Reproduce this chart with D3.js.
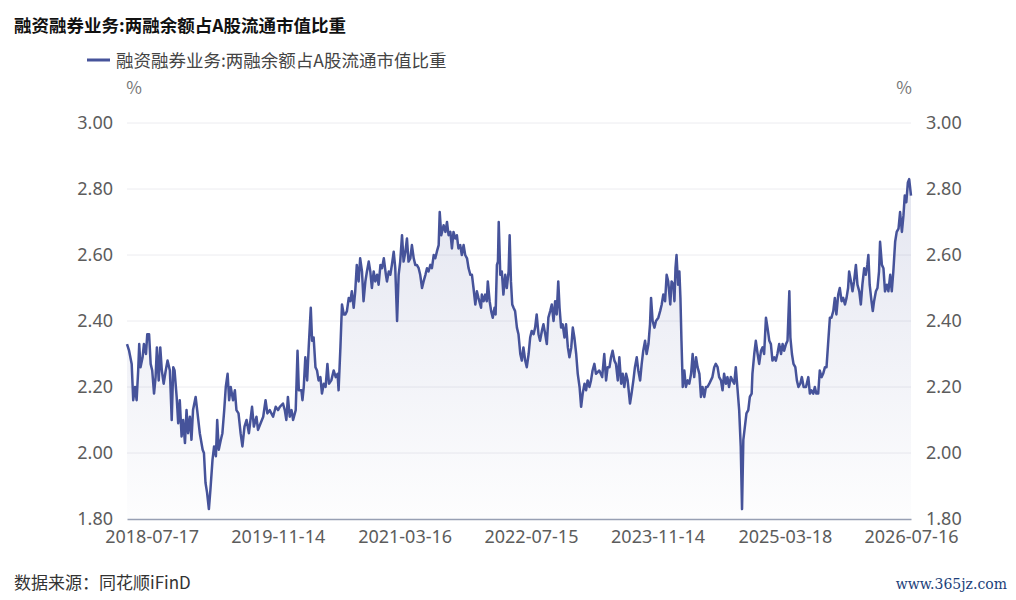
<!DOCTYPE html>
<html>
<head>
<meta charset="utf-8">
<script src="https://cdn.jsdelivr.net/npm/d3@7"></script>
<style>
  body { margin: 0; background: #fff; }
  svg { display: block; font-family: "Noto Sans CJK SC", "Noto Sans", sans-serif; }
</style>
</head>
<body>
<script>
// 融资融券业务:两融余额占A股流通市值比重 (%), one block per year
const days2018 = [
  "04-13","04-21","05-01","05-07","05-14","05-20","05-26","05-30","06-04","06-12",
  "06-17","06-25","06-30","07-07","07-13","07-19","07-26","08-01","08-06","08-13",
  "08-19","08-25","09-01","09-09","09-16","09-25","10-02","10-08","10-13","10-21",
  "10-27","11-02","11-09","11-15","11-22","11-28","12-04","12-11","12-17","12-23"];
const ratio2018 = [
  2.33,2.31,2.27,2.16,2.20,2.16,2.25,2.33,2.26,2.29,
  2.33,2.30,2.36,2.36,2.27,2.25,2.18,2.23,2.32,2.22,
  2.32,2.25,2.21,2.25,2.28,2.25,2.10,2.26,2.25,2.17,
  2.09,2.16,2.05,2.10,2.03,2.13,2.06,2.11,2.04,2.13];

const days2019 = [
  "01-02","01-08","01-18","01-29","02-03","02-09","02-15","02-22","02-28","03-08",
  "03-14","03-21","03-26","04-01","04-09","04-15","04-22","04-28","05-05","05-11",
  "05-17","05-26","06-02","06-08","06-16","06-24","07-01","07-09","07-17","07-26",
  "08-01","08-07","08-14","08-24","08-30","09-09","09-19","09-28","10-05","10-14",
  "10-27","11-06","11-15","11-22","12-04","12-11","12-17","12-23","12-30"];
const ratio2019 = [
  2.17,2.13,2.06,2.01,2.00,1.91,1.88,1.83,1.89,1.98,
  2.02,1.99,2.10,2.01,2.04,2.06,2.13,2.20,2.24,2.16,
  2.20,2.16,2.19,2.13,2.12,2.06,2.02,2.08,2.10,2.06,
  2.10,2.14,2.08,2.11,2.07,2.09,2.11,2.16,2.12,2.13,
  2.11,2.14,2.13,2.14,2.15,2.13,2.10,2.17,2.11];

const days2020 = [
  "01-06","01-12","01-22","01-29","02-03","02-13","02-17","02-22","02-28","03-06",
  "03-12","03-20","03-25","03-31","04-07","04-13","04-19","04-26","05-02","05-09",
  "05-16","05-23","05-29","06-07","06-16","06-24","07-01","07-05","07-12","07-18",
  "07-25","07-31","08-06","08-13","08-19","08-25","09-01","09-07","09-13","09-20",
  "09-26","10-03","10-09","10-16","10-22","10-29","11-04","11-10","11-17","11-23",
  "11-30","12-06","12-13","12-19","12-26"];
const ratio2020 = [
  2.13,2.10,2.13,2.31,2.19,2.19,2.16,2.20,2.29,2.22,
  2.32,2.44,2.34,2.35,2.26,2.25,2.22,2.23,2.18,2.21,
  2.20,2.27,2.21,2.22,2.25,2.23,2.24,2.19,2.32,2.45,
  2.42,2.42,2.43,2.47,2.46,2.49,2.44,2.49,2.57,2.52,
  2.59,2.55,2.46,2.52,2.55,2.58,2.55,2.50,2.55,2.52,
  2.54,2.51,2.57,2.56,2.59];

const days2021 = [
  "01-03","01-07","01-14","01-20","01-26","02-02","02-08","02-15","02-21","02-27",
  "03-06","03-12","03-19","03-25","03-31","04-07","04-13","04-20","04-26","05-02",
  "05-09","05-15","05-22","05-28","06-04","06-10","06-16","06-23","06-29","07-06",
  "07-12","07-18","07-25","07-29","08-04","08-13","08-20","08-26","09-01","09-08",
  "09-14","09-20","09-27","10-03","10-09","10-16","10-22","10-29","11-04","11-11",
  "11-17","11-24","11-30","12-06","12-13","12-19","12-25"];
const ratio2021 = [
  2.54,2.52,2.55,2.54,2.57,2.61,2.56,2.40,2.54,2.58,
  2.66,2.58,2.61,2.65,2.58,2.59,2.63,2.59,2.57,2.57,
  2.56,2.54,2.50,2.52,2.54,2.56,2.55,2.57,2.56,2.60,
  2.59,2.61,2.63,2.73,2.66,2.69,2.67,2.70,2.66,2.67,
  2.62,2.67,2.65,2.66,2.62,2.63,2.60,2.63,2.60,2.59,
  2.56,2.54,2.54,2.50,2.45,2.49,2.47];

const days2022 = [
  "01-04","01-07","01-14","01-20","01-26","01-30","02-06","02-12","02-18","02-25",
  "03-01","03-06","03-10","03-13","03-19","03-25","03-31","04-07","04-13","04-20",
  "04-24","04-29","05-04","05-09","05-15","05-22","05-28","06-04","06-10","06-16",
  "06-23","06-29","07-06","07-12","07-18","07-25","07-31","08-06","08-13","08-19",
  "08-26","09-01","09-08","09-14","09-20","09-27","10-03","10-10","10-16","10-22",
  "10-28","11-02","11-08","11-14","11-21","11-27","12-04","12-10","12-17","12-23",
  "12-29"];
const ratio2022 = [
  2.44,2.48,2.46,2.48,2.46,2.52,2.46,2.43,2.41,2.44,
  2.42,2.57,2.58,2.70,2.54,2.55,2.48,2.54,2.50,2.55,
  2.66,2.52,2.45,2.44,2.43,2.38,2.36,2.30,2.28,2.32,
  2.28,2.26,2.30,2.35,2.37,2.36,2.38,2.42,2.36,2.34,
  2.37,2.39,2.36,2.33,2.41,2.43,2.45,2.40,2.46,2.42,
  2.52,2.44,2.38,2.39,2.35,2.39,2.32,2.29,2.32,2.38,
  2.35];

const days2023 = [
  "01-05","01-11","01-18","01-24","01-30","02-06","02-12","02-18","02-25","03-03",
  "03-09","03-16","03-22","04-04","04-15","04-23","04-30","05-06","05-13","05-19",
  "05-25","06-01","06-07","06-14","06-20","06-27","07-03","07-09","07-16","07-22",
  "07-31","08-06","08-13","08-19","08-26","09-01","09-08","09-14","09-20","09-27",
  "10-03","10-10","10-16","10-20","10-26","11-02","11-08","11-17","11-24","11-30",
  "12-06","12-13","12-19","12-25"];
const ratio2023 = [
  2.30,2.24,2.20,2.14,2.18,2.21,2.19,2.22,2.20,2.22,
  2.25,2.27,2.24,2.25,2.23,2.30,2.22,2.26,2.26,2.29,
  2.31,2.28,2.27,2.22,2.29,2.21,2.24,2.20,2.24,2.22,
  2.15,2.18,2.22,2.26,2.29,2.25,2.22,2.27,2.31,2.34,
  2.30,2.33,2.39,2.47,2.40,2.38,2.40,2.41,2.43,2.45,
  2.48,2.46,2.54,2.52];

const days2024 = [
  "01-02","01-07","01-14","01-18","01-22","01-26","02-01","02-06","02-10","02-14",
  "02-19","02-25","03-02","03-09","03-15","03-22","03-28","04-03","04-10","04-16",
  "04-23","04-29","05-05","05-12","05-18","05-24","05-31","06-06","06-12","06-19",
  "06-25","07-02","07-08","07-15","07-21","07-27","08-03","08-09","08-15","08-22",
  "08-28","09-04","09-10","09-16","09-23","09-29","10-04","10-09","10-15","10-21",
  "10-28","11-03","11-10","11-13","11-20","11-26","12-03","12-09","12-16","12-22",
  "12-28"];
const ratio2024 = [
  2.45,2.52,2.51,2.46,2.56,2.60,2.51,2.55,2.47,2.34,
  2.20,2.25,2.20,2.22,2.21,2.24,2.30,2.23,2.29,2.26,
  2.24,2.17,2.20,2.17,2.20,2.20,2.21,2.22,2.23,2.26,
  2.27,2.26,2.23,2.22,2.19,2.24,2.21,2.23,2.20,2.23,
  2.22,2.21,2.26,2.20,2.13,2.02,1.83,2.04,2.08,2.12,
  2.13,2.17,2.18,2.24,2.30,2.34,2.30,2.27,2.31,2.32,
  2.30];

const days2025 = [
  "01-04","01-10","01-17","01-23","01-29","02-05","02-11","02-17","02-24","03-03",
  "03-09","03-15","03-22","03-28","04-04","04-08","04-14","04-20","04-27","05-03",
  "05-09","05-16","05-22","05-29","06-07","06-16","06-22","06-28","07-05","07-11",
  "07-17","07-24","07-30","08-06","08-12","08-19","08-25","08-31","09-07","09-13",
  "09-20","09-26","10-02","10-09","10-15","10-22","10-28","11-04","11-10","11-16",
  "11-20","11-27","12-03","12-09","12-16","12-22","12-29"];
const ratio2025 = [
  2.41,2.38,2.34,2.33,2.28,2.29,2.28,2.30,2.33,2.30,
  2.33,2.31,2.33,2.34,2.49,2.35,2.30,2.27,2.26,2.22,
  2.20,2.21,2.23,2.20,2.20,2.23,2.18,2.19,2.18,2.20,
  2.18,2.18,2.25,2.23,2.24,2.26,2.26,2.33,2.41,2.41,
  2.43,2.47,2.42,2.48,2.50,2.46,2.47,2.45,2.47,2.50,
  2.55,2.52,2.49,2.52,2.57,2.51,2.49];

const days2026 = [
  "01-04","01-10","01-17","01-23","01-29","02-02","02-07","02-14","02-19","02-24",
  "03-03","03-09","03-15","03-19","03-26","04-01","04-07","04-14","04-20","04-27",
  "05-03","05-09","05-16","05-22","05-29","06-04","06-11","06-17","06-22","06-28",
  "07-04","07-09","07-16"];
const ratio2026 = [
  2.45,2.51,2.56,2.54,2.57,2.60,2.51,2.46,2.43,2.46,
  2.49,2.50,2.55,2.64,2.57,2.56,2.49,2.51,2.49,2.54,
  2.49,2.55,2.64,2.67,2.68,2.73,2.67,2.72,2.78,2.76,
  2.82,2.83,2.78];

const yearBlocks = [
  [2018, days2018, ratio2018], [2019, days2019, ratio2019], [2020, days2020, ratio2020],
  [2021, days2021, ratio2021], [2022, days2022, ratio2022], [2023, days2023, ratio2023],
  [2024, days2024, ratio2024], [2025, days2025, ratio2025], [2026, days2026, ratio2026]
];

const yTicks = [1.80, 2.00, 2.20, 2.40, 2.60, 2.80, 3.00];
const xTickLabels = ["2018-07-17", "2019-11-14", "2021-03-16", "2022-07-15",
                     "2023-11-14", "2025-03-18", "2026-07-16"];

const titleText = "融资融券业务:两融余额占A股流通市值比重";
const seriesName = "融资融券业务:两融余额占A股流通市值比重";
const unitText = "%";
const sourceText = "数据来源：同花顺iFinD";
const siteText = "www.365jz.com";

// ---- build rows ----
var parseDate = d3.timeParse("%Y-%m-%d");
var data = [];
yearBlocks.forEach(function(b) {
  if (b[1].length !== b[2].length) console.warn("length mismatch", b[0]);
  b[1].forEach(function(md, i) {
    data.push({ date: parseDate(b[0] + "-" + md), value: b[2][i] });
  });
});

// ---- svg ----
var w = 1016, h = 600;
var margin = { top: 123, right: 105, bottom: 81, left: 127 };
var lineColor = "#46539a";
var labelColor = "#5c5c5c";

var svg = d3.select("body").append("svg")
  .attr("width", w)
  .attr("height", h);

var x = d3.scaleTime()
  .domain(d3.extent(data, d => d.date))
  .range([margin.left, w - margin.right]);

var y = d3.scaleLinear()
  .domain([d3.min(yTicks), d3.max(yTicks)])
  .range([h - margin.bottom, margin.top]);

// gradient for area fill
var defs = svg.append("defs");
var grad = defs.append("linearGradient")
  .attr("id", "areaFill")
  .attr("gradientUnits", "userSpaceOnUse")
  .attr("x1", 0).attr("x2", 0)
  .attr("y1", y(d3.max(yTicks))).attr("y2", y(d3.min(yTicks)));
grad.append("stop").attr("offset", "0%").attr("stop-color", lineColor).attr("stop-opacity", 0.17);
grad.append("stop").attr("offset", "100%").attr("stop-color", lineColor).attr("stop-opacity", 0.01);

// gridlines
svg.append("g")
  .selectAll("line")
  .data(yTicks.slice(1))
  .enter()
  .append("line")
  .attr("x1", margin.left)
  .attr("x2", w - margin.right)
  .attr("y1", d => y(d))
  .attr("y2", d => y(d))
  .attr("stroke", "#ececf0")
  .attr("stroke-width", 1);

// area + line
var area = d3.area()
  .x(d => x(d.date))
  .y0(y(d3.min(yTicks)))
  .y1(d => y(d.value));

var line = d3.line()
  .x(d => x(d.date))
  .y(d => y(d.value));

svg.append("path")
  .datum(data)
  .attr("d", area)
  .attr("fill", "url(#areaFill)");

svg.append("path")
  .datum(data)
  .attr("d", line)
  .attr("fill", "none")
  .attr("stroke", lineColor)
  .attr("stroke-width", 2.5)
  .attr("stroke-linejoin", "round");

// x axis
var xAxis = d3.axisBottom(x)
  .tickValues(xTickLabels.map(parseDate))
  .tickFormat(d3.timeFormat("%Y-%m-%d"))
  .tickSize(0)
  .tickSizeOuter(0)
  .tickPadding(11);

var gx = svg.append("g")
  .attr("transform", "translate(0," + (h - margin.bottom) + ")")
  .call(xAxis);
gx.select(".domain").attr("stroke", "#98a0b4").attr("stroke-width", 1.6);
gx.selectAll("text")
  .attr("fill", labelColor)
  .style("font-size", "18px")
  .style("font-family", "'Noto Sans', sans-serif");

// y axes, left and right
var yFormat = d3.format(".2f");
[["left", margin.left, d3.axisLeft, 14], ["right", w - margin.right, d3.axisRight, 15]].forEach(function(a) {
  var g = svg.append("g")
    .attr("transform", "translate(" + a[1] + ",0)")
    .call(a[2](y).tickValues(yTicks).tickFormat(yFormat).tickSize(0).tickPadding(a[3]));
  g.select(".domain").remove();
  g.selectAll("text")
    .attr("fill", labelColor)
    .style("font-size", "18px")
    .style("font-family", "'Noto Sans', sans-serif");
});

// unit labels
svg.append("text")
  .attr("x", margin.left + 7)
  .attr("y", 94)
  .attr("text-anchor", "middle")
  .attr("fill", "#777")
  .style("font-size", "17px")
  .text(unitText);
svg.append("text")
  .attr("x", w - margin.right - 7)
  .attr("y", 94)
  .attr("text-anchor", "middle")
  .attr("fill", "#777")
  .style("font-size", "17px")
  .text(unitText);

// title
svg.append("text")
  .attr("x", 14)
  .attr("y", 32)
  .attr("fill", "#111")
  .style("font-size", "17.5px")
  .style("font-weight", "bold")
  .text(titleText);

// legend
svg.append("line")
  .attr("x1", 87).attr("x2", 110)
  .attr("y1", 60).attr("y2", 60)
  .attr("stroke", lineColor)
  .attr("stroke-width", 3);
svg.append("text")
  .attr("x", 116)
  .attr("y", 67)
  .attr("fill", "#444")
  .style("font-size", "17.5px")
  .text(seriesName);

// footer
svg.append("text")
  .attr("x", 14)
  .attr("y", 589)
  .attr("fill", "#333")
  .style("font-size", "17px")
  .text(sourceText);

svg.append("text")
  .attr("x", 1007)
  .attr("y", 589)
  .attr("text-anchor", "end")
  .attr("fill", "#1c3f7a")
  .style("font-size", "14px")
  .style("font-family", "'DejaVu Serif', serif")
  .text(siteText);
</script>
</body>
</html>
